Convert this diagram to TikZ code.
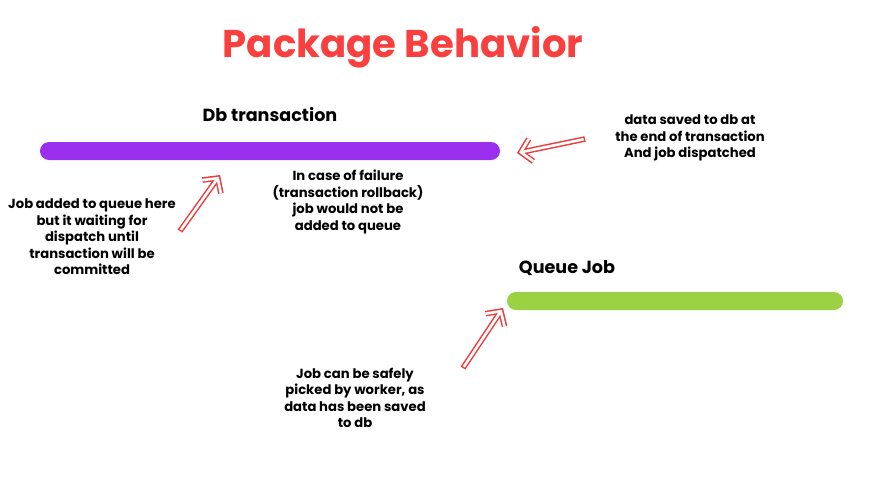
\documentclass[tikz,border=0pt]{standalone}
\usepackage{fontspec}
\setmainfont{Poppins}
\usepackage{tikz}
\usetikzlibrary{arrows.meta,positioning}
\definecolor{TitleRed}{HTML}{FA3F3F}
\definecolor{ArrowRed}{HTML}{EE3B3B}
\definecolor{Purple}{HTML}{9A2FF0}
\definecolor{Lime}{HTML}{9BD244}

\begin{document}
\begin{tikzpicture}[
  x=0.2mm,y=-0.2mm,
  bar/.style={rounded corners=0.18cm,minimum height=0.36cm,inner sep=0pt},
  note/.style={align=center,font=\bfseries\fontsize{7.5}{9.4}\selectfont,inner sep=1pt},
  label/.style={font=\bfseries\fontsize{10}{12}\selectfont},
  hollow/.style={draw=ArrowRed,line width=3.2pt,-{Straight Barb[length=6pt,width=13pt]},
    postaction={draw=white,line width=1.5pt,shorten >=1.2pt,shorten <=0.8pt,-{Straight Barb[length=6pt,width=13pt]}}}
]
  \useasboundingbox (0,0) rectangle (875,478);
  \node[font=\bfseries\fontsize{22}{26}\selectfont,text=TitleRed] (title) at (403,47) {Package Behavior};
  % bars
  \node[bar,fill=Purple,minimum width=9.2cm] (db) at (270,151) {};
  \node[bar,fill=Lime,minimum width=6.72cm] (queue) at (675,301) {};
  \node[label] (dblabel) at (270,115) {Db transaction};
  \node[label] (qlabel) at (567,268) {Queue Job};
  % notes
  \node[note] (added) at (92,237) {Job added to queue here\\but  it waiting for\\dispatch until\\transaction will be\\committed};
  \node[note] (failure) at (348,202) {In case of failure\\(transaction rollback)\\job would not be\\added to queue};
  \node[note] (saved) at (690,138) {data saved to db at\\the end of transaction\\And job dispatched};
  \node[note] (picked) at (355,398) {Job can be safely\\picked by worker, as\\data has been saved\\to db};
  % arrows
  \coordinate (a1) at (180,231);
  \coordinate (h1) at (220,175);
  \coordinate (a2) at (585,139);
  \coordinate (h2) at (517,153);
  \coordinate (a3) at (463,368);
  \coordinate (h3) at (503,308);
  \draw[hollow] (a1) -- (h1);
  \draw[hollow] (a2) -- (h2);
  \draw[hollow] (a3) -- (h3);
\end{tikzpicture}
\end{document}
